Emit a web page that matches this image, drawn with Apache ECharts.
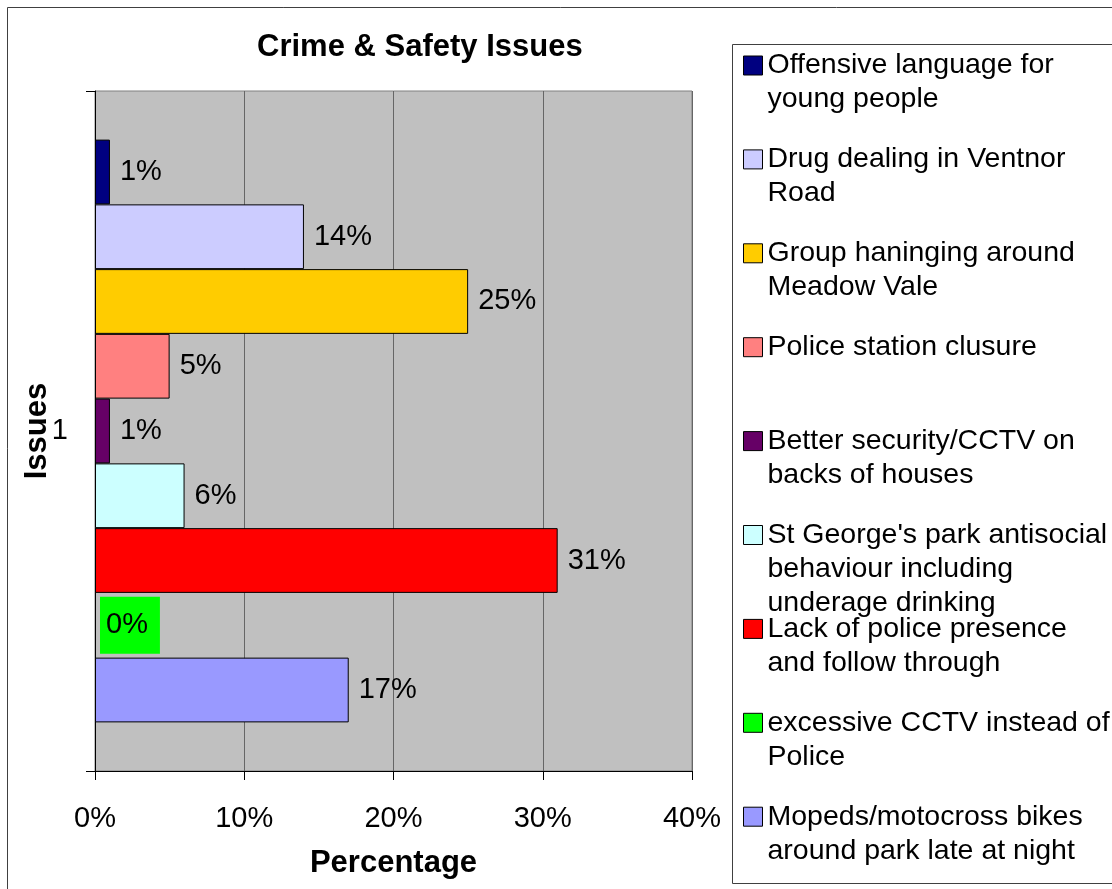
<!DOCTYPE html>
<html>
<head>
<meta charset="utf-8">
<script src="https://cdn.jsdelivr.net/npm/echarts@6/dist/echarts.min.js"></script>
<style>html,body{margin:0;padding:0;background:#fff;}#c{width:1112px;height:889px;}</style>
</head>
<body>
<div id="c"></div>
<script>
const categories = ['1'];
const seriesNames = [
  'Offensive language for\nyoung people',
  'Drug dealing in Ventnor\nRoad',
  'Group haninging around\nMeadow Vale',
  'Police station clusure',
  'Better security/CCTV on\nbacks of houses',
  "St George's park antisocial\nbehaviour including\nunderage drinking",
  'Lack of police presence\nand follow through',
  'excessive CCTV instead of\nPolice',
  'Mopeds/motocross bikes\naround park late at night'
];
const seriesValues = [1, 14, 25, 5, 1, 6, 31, 0, 17];
const seriesColors = ['#000080', '#CCCCFF', '#FFCC00', '#FF8080', '#660066', '#CCFFFF', '#FF0000', '#00FF00', '#9999FF'];
const xMin = 0, xMax = 40, xStep = 10;

const FONT = 'Liberation Sans, Arial, sans-serif';
const LH = 34, IH = 19;
const legendIconTop0 = 56, legendStep = 93.9;

const chart = echarts.init(document.getElementById('c'), null, {renderer: 'canvas'});

const series = seriesNames.map((name, i) => {
  const s = {
    name: name,
    type: 'bar',
    data: [seriesValues[i]],
    barGap: '0%',
    barCategoryGap: '14.3%',
    itemStyle: {color: seriesColors[i], borderColor: '#000', borderWidth: 1},
    label: {
      show: true, position: 'right', distance: 10,
      formatter: '{c}%', fontFamily: FONT, fontSize: 29, color: '#000'
    },
    emphasis: {disabled: true}
  };
  if (seriesValues[i] === 0) {
    s.label.backgroundColor = seriesColors[i];
    s.label.padding = [14, 12, 14, 6];
    s.label.distance = 5;
    s.itemStyle.borderWidth = 0;
  }
  return s;
});

const legends = seriesNames.map((name, i) => {
  const lines = name.split('\n').length;
  const iconTop = legendIconTop0 + i * legendStep;
  return {
    data: [name],
    orient: 'vertical',
    left: 743,
    top: iconTop - (LH / 2 - IH / 2) - (lines - 1) * LH,
    padding: 0,
    itemWidth: IH, itemHeight: IH,
    icon: 'rect',
    itemStyle: {borderColor: '#000', borderWidth: 1},
    selectedMode: false,
    formatter: function (n) { return '\n'.repeat(n.split('\n').length - 1) + n; },
    textStyle: {
      fontFamily: FONT, fontSize: 28.5, color: '#000', lineHeight: LH
    }
  };
});

chart.setOption({
  animation: false,
  backgroundColor: '#fff',
  title: {
    text: 'Crime & Safety Issues',
    left: 252, top: 27,
    textStyle: {fontFamily: FONT, fontSize: 31, fontWeight: 'bold', color: '#000'}
  },
  graphic: [
    {type: 'rect', shape: {x: 7.5, y: 7.5, width: 1300, height: 1000}, style: {fill: 'none', stroke: '#404040', lineWidth: 1}, z: -10},
    {type: 'rect', shape: {x: 732.5, y: 44.5, width: 500, height: 839}, style: {fill: '#fff', stroke: '#404040', lineWidth: 1}, z: -5}
  ],
  legend: legends,
  grid: {
    left: 95, right: 420, top: 91, bottom: 118,
    show: true, backgroundColor: '#C0C0C0', borderColor: '#808080', borderWidth: 1,
    containLabel: false
  },
  xAxis: {
    type: 'value', min: xMin, max: xMax, interval: xStep,
    name: 'Percentage', nameLocation: 'middle', nameGap: 77, nameMoveOverlap: false,
    nameTextStyle: {fontFamily: FONT, fontSize: 31, fontWeight: 'bold', color: '#000'},
    axisLine: {show: true, lineStyle: {color: '#000', width: 1}},
    axisTick: {show: true, length: 9, lineStyle: {color: '#000'}},
    axisLabel: {formatter: '{value}%', fontFamily: FONT, fontSize: 29, color: '#000', margin: 33},
    splitLine: {show: true, lineStyle: {color: '#666', width: 1}}
  },
  yAxis: {
    type: 'category', data: categories,
    name: 'Issues', nameLocation: 'middle', nameGap: 42, nameRotate: 90, nameMoveOverlap: false,
    nameTextStyle: {fontFamily: FONT, fontSize: 31, fontWeight: 'bold', color: '#000'},
    axisLine: {show: true, lineStyle: {color: '#000', width: 1}},
    axisTick: {show: true, length: 9, lineStyle: {color: '#000'}},
    axisLabel: {fontFamily: FONT, fontSize: 29, color: '#000', margin: 27},
    splitLine: {show: false}
  },
  series: series
});
</script>
</body>
</html>
